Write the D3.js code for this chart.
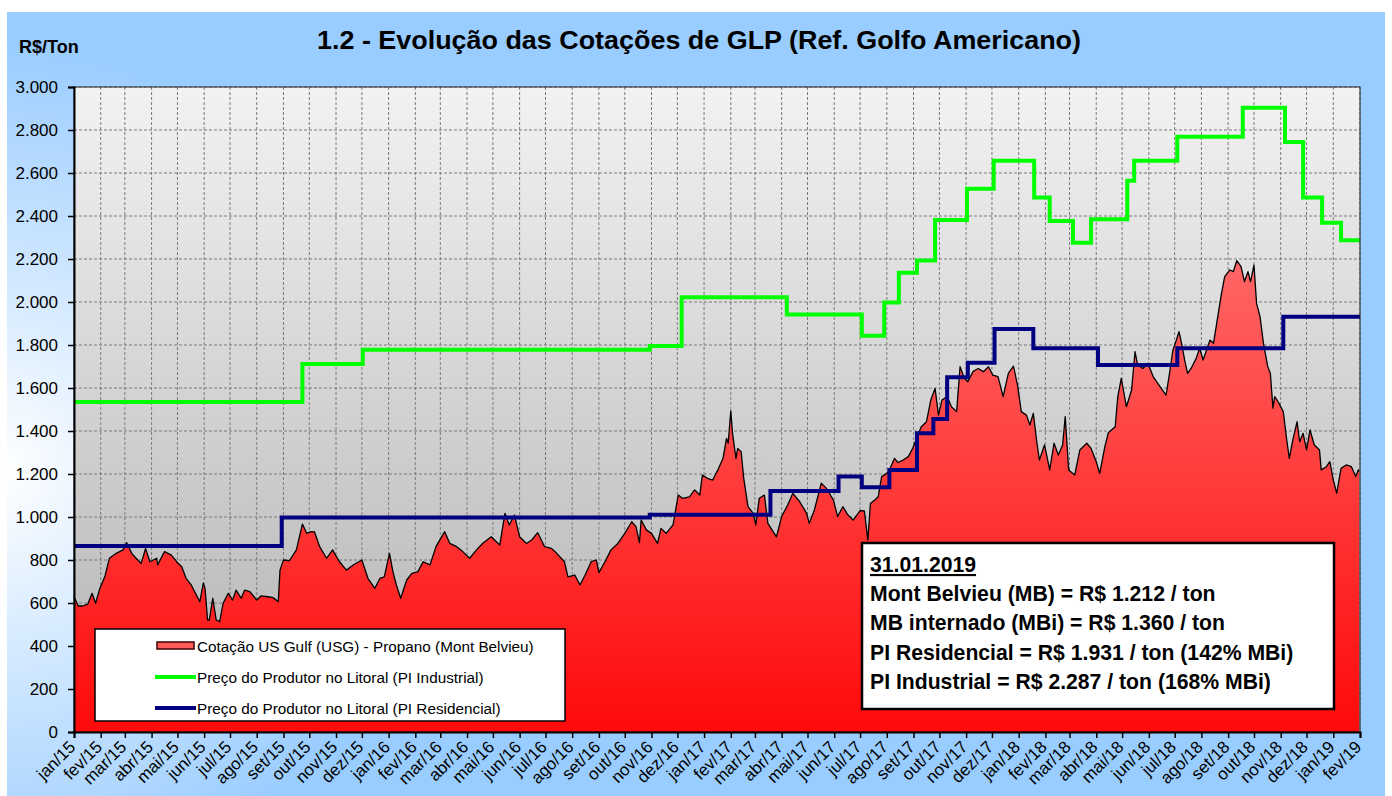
<!DOCTYPE html>
<html>
<head>
<meta charset="utf-8">
<script src="https://cdn.jsdelivr.net/npm/d3@7"></script>
<style>
  body { margin: 0; background: #fff; }
  svg { display: block; }
  text { font-family: "Liberation Sans", Arial, sans-serif; }
</style>
</head>
<body>
<svg id="chart" width="1392" height="796"></svg>
<script>
// month abbreviations used on the x axis
const monthAbbr = ["jan","fev","mar","abr","mai","jun","jul","ago","set","out","nov","dez"];
const yTicks = [0,200,400,600,800,1000,1200,1400,1600,1800,2000,2200,2400,2600,2800,3000];

// Cotação US Gulf (USG) - Propano (Mont Belvieu), R$/ton
const mbSeries = [
  ["2015-01-01",629],["2015-01-06",586],["2015-01-11",586],["2015-01-17",595],["2015-01-22",645],
  ["2015-01-26",599],["2015-01-31",668],["2015-02-06",726],["2015-02-11",808],["2015-02-19",831],
  ["2015-02-27",847],["2015-03-03",881],["2015-03-09",831],["2015-03-14",808],["2015-03-20",784],
  ["2015-03-25",854],["2015-03-30",792],["2015-04-07",808],["2015-04-08",777],["2015-04-16",839],
  ["2015-04-24",823],["2015-04-30",792],["2015-05-06",769],["2015-05-11",715],["2015-05-17",684],
  ["2015-05-23",637],["2015-05-27",606],["2015-05-31",692],["2015-06-02",668],["2015-06-05",521],
  ["2015-06-07",521],["2015-06-11",622],["2015-06-15",521],["2015-06-19",513],["2015-06-23",599],
  ["2015-06-29",645],["2015-07-04",614],["2015-07-08",660],["2015-07-14",622],["2015-07-18",660],
  ["2015-07-24",653],["2015-08-01",614],["2015-08-06",633],["2015-08-14",629],["2015-08-20",625],
  ["2015-08-26",606],["2015-08-28",753],["2015-09-01",800],["2015-09-08",797],["2015-09-16",847],
  ["2015-09-23",967],["2015-09-28",924],["2015-10-03",932],["2015-10-07",931],["2015-10-13",862],
  ["2015-10-21",808],["2015-10-28",847],["2015-11-05",792],["2015-11-13",753],["2015-11-21",777],
  ["2015-12-01",800],["2015-12-08",715],["2015-12-16",668],["2015-12-22",715],["2015-12-27",722],
  ["2016-01-02",831],["2016-01-06",746],["2016-01-10",684],["2016-01-15",622],["2016-01-22",707],
  ["2016-01-28",738],["2016-02-04",746],["2016-02-10",792],["2016-02-18",777],["2016-02-25",862],
  ["2016-03-06",932],["2016-03-12",877],["2016-03-20",862],["2016-03-27",839],["2016-04-04",808],
  ["2016-04-12",847],["2016-04-19",877],["2016-04-29",908],["2016-05-09",870],["2016-05-15",1017],
  ["2016-05-20",963],["2016-05-26",1009],["2016-06-01",908],["2016-06-09",877],["2016-06-15",893],
  ["2016-06-22",927],["2016-06-30",862],["2016-07-08",854],["2016-07-14",831],["2016-07-23",792],
  ["2016-07-27",722],["2016-08-04",730],["2016-08-10",684],["2016-08-16",730],["2016-08-23",792],
  ["2016-08-29",800],["2016-09-01",741],["2016-09-08",792],["2016-09-15",847],["2016-09-23",877],
  ["2016-10-01",924],["2016-10-09",978],["2016-10-14",955],["2016-10-18",881],["2016-10-20",986],
  ["2016-10-26",940],["2016-11-01",924],["2016-11-08",877],["2016-11-12",947],["2016-11-18",924],
  ["2016-11-26",963],["2016-12-02",1102],["2016-12-07",1087],["2016-12-15",1094],["2016-12-21",1126],
  ["2016-12-27",1102],["2016-12-30",1195],["2017-01-05",1180],["2017-01-11",1172],["2017-01-17",1219],
  ["2017-01-23",1273],["2017-01-27",1366],["2017-01-29",1343],["2017-02-01",1494],["2017-02-03",1389],
  ["2017-02-07",1273],["2017-02-09",1319],["2017-02-13",1304],["2017-02-16",1180],["2017-02-21",1048],
  ["2017-02-27",1017],["2017-03-02",963],["2017-03-06",1087],["2017-03-12",1102],["2017-03-16",970],
  ["2017-03-26",908],["2017-04-01",1002],["2017-04-08",1056],["2017-04-14",1110],["2017-04-22",1071],
  ["2017-04-30",1017],["2017-05-03",970],["2017-05-09",1033],["2017-05-17",1157],["2017-05-23",1133],
  ["2017-05-31",1079],["2017-06-05",1002],["2017-06-11",1048],["2017-06-17",1009],["2017-06-23",986],
  ["2017-07-01",1030],["2017-07-06",1028],["2017-07-10",893],["2017-07-13",1063],["2017-07-18",1079],
  ["2017-07-22",1094],["2017-07-26",1188],["2017-08-01",1203],["2017-08-04",1219],["2017-08-10",1273],
  ["2017-08-14",1253],["2017-08-20",1265],["2017-08-26",1281],["2017-08-31",1319],["2017-09-06",1381],
  ["2017-09-10",1420],["2017-09-16",1443],["2017-09-21",1544],["2017-09-26",1598],["2017-09-30",1474],
  ["2017-10-04",1544],["2017-10-10",1560],["2017-10-15",1513],["2017-10-21",1490],["2017-10-25",1699],
  ["2017-10-30",1645],["2017-11-03",1629],["2017-11-09",1676],["2017-11-15",1691],["2017-11-21",1676],
  ["2017-11-27",1699],["2017-12-02",1660],["2017-12-08",1653],["2017-12-14",1560],["2017-12-20",1668],
  ["2017-12-26",1702],["2017-12-31",1606],["2018-01-04",1490],["2018-01-10",1474],["2018-01-14",1428],
  ["2018-01-18",1482],["2018-01-22",1350],["2018-01-25",1265],["2018-01-31",1335],["2018-02-06",1219],
  ["2018-02-11",1343],["2018-02-16",1288],["2018-02-21",1335],["2018-02-24",1467],["2018-02-28",1219],
  ["2018-03-07",1195],["2018-03-13",1312],["2018-03-21",1343],["2018-03-26",1319],["2018-04-01",1257],
  ["2018-04-05",1203],["2018-04-11",1327],["2018-04-15",1392],["2018-04-23",1420],["2018-04-26",1560],
  ["2018-04-30",1645],["2018-05-06",1513],["2018-05-12",1591],["2018-05-16",1769],["2018-05-19",1707],
  ["2018-05-25",1691],["2018-05-31",1714],["2018-06-06",1653],["2018-06-14",1606],["2018-06-21",1567],
  ["2018-06-25",1668],["2018-06-29",1777],["2018-07-03",1823],["2018-07-06",1862],["2018-07-09",1808],
  ["2018-07-13",1722],["2018-07-16",1668],["2018-07-20",1691],["2018-07-26",1738],["2018-07-30",1785],
  ["2018-08-03",1730],["2018-08-07",1777],["2018-08-11",1823],["2018-08-15",1808],["2018-08-20",1932],
  ["2018-08-24",2033],["2018-08-28",2118],["2018-09-03",2149],["2018-09-07",2141],["2018-09-11",2192],
  ["2018-09-16",2164],["2018-09-20",2095],["2018-09-24",2141],["2018-09-27",2095],["2018-10-01",2172],
  ["2018-10-04",1994],["2018-10-08",1932],["2018-10-12",1808],["2018-10-17",1699],["2018-10-20",1668],
  ["2018-10-23",1506],["2018-10-25",1560],["2018-10-29",1536],["2018-11-04",1490],["2018-11-08",1358],
  ["2018-11-11",1273],["2018-11-15",1358],["2018-11-20",1443],["2018-11-23",1350],["2018-11-27",1389],
  ["2018-12-01",1312],["2018-12-05",1405],["2018-12-10",1335],["2018-12-16",1312],["2018-12-18",1219],
  ["2018-12-24",1234],["2018-12-28",1257],["2019-01-01",1172],["2019-01-05",1110],["2019-01-10",1226],
  ["2019-01-16",1242],["2019-01-22",1234],["2019-01-27",1188],["2019-01-30",1219],["2019-01-31",1212]
];

// Preço do Produtor no Litoral (PI Industrial) - price changes
const piIndustrial = [
  ["2015-01-01",1535],["2015-09-23",1712],["2015-12-02",1778],["2016-10-30",1795],["2016-12-06",2022],
  ["2017-04-07",1942],["2017-07-03",1843],["2017-07-29",1998],["2017-08-15",2136],["2017-09-05",2193],
  ["2017-09-26",2381],["2017-11-02",2527],["2017-12-03",2657],["2018-01-19",2486],["2018-02-06",2377],
  ["2018-03-05",2276],["2018-03-26",2385],["2018-05-07",2564],["2018-05-15",2657],["2018-07-04",2769],
  ["2018-09-18",2904],["2018-11-06",2744],["2018-11-27",2486],["2018-12-19",2369],["2019-01-10",2287],
  ["2019-02-01",2287]
];

// Preço do Produtor no Litoral (PI Residencial) - price changes
const piResidencial = [
  ["2015-01-01",865],["2015-08-30",998],["2016-10-30",1010],["2017-03-19",1121],["2017-06-06",1188],
  ["2017-07-03",1138],["2017-08-04",1219],["2017-09-05",1389],["2017-09-24",1456],["2017-10-10",1650],
  ["2017-11-03",1718],["2017-12-04",1875],["2018-01-18",1785],["2018-04-03",1707],["2018-07-04",1785],
  ["2018-11-04",1931],["2019-02-01",1931]
];

const legendItems = [
  {label: "Cotação US Gulf (USG) - Propano (Mont Belvieu)", kind: "area"},
  {label: "Preço do Produtor no Litoral (PI Industrial)", kind: "green"},
  {label: "Preço do Produtor no Litoral (PI Residencial)", kind: "blue"}
];

const noteLines = [
  "31.01.2019",
  "Mont Belvieu (MB) = R$ 1.212 / ton",
  "MB internado (MBi) = R$ 1.360 / ton",
  "PI Residencial = R$ 1.931 / ton (142% MBi)",
  "PI Industrial = R$ 2.287 / ton (168% MBi)"
];

const W = 1392, H = 796;
const mLeft = 74, mRight = 1360, mTop = 87, mBottom = 732;

const parse = d3.utcParse("%Y-%m-%d");
const toPts = arr => arr.map(d => ({date: parse(d[0]), value: d[1]}));
const mb = toPts(mbSeries), ind = toPts(piIndustrial), res = toPts(piResidencial);

const x = d3.scaleUtc()
  .domain([parse("2015-01-01"), parse("2019-02-01")])
  .range([mLeft, mRight]);
const y = d3.scaleLinear().domain([0, 3000]).range([mBottom, mTop]);

const svg = d3.select("#chart");
const defs = svg.append("defs");

// outer light blue background, fading to white towards left middle
const bg = defs.append("radialGradient").attr("id", "bgGrad")
  .attr("gradientUnits", "userSpaceOnUse")
  .attr("cx", 0).attr("cy", 470).attr("r", 430);
bg.append("stop").attr("offset", "0%").attr("stop-color", "#ffffff");
bg.append("stop").attr("offset", "100%").attr("stop-color", "#99ccff");

const plotGrad = defs.append("linearGradient").attr("id", "plotGrad")
  .attr("x1", 0).attr("y1", 0).attr("x2", 0).attr("y2", 1);
plotGrad.append("stop").attr("offset", "0%").attr("stop-color", "#f2f2f2");
plotGrad.append("stop").attr("offset", "100%").attr("stop-color", "#b2b2b2");

const redGrad = defs.append("linearGradient").attr("id", "redGrad")
  .attr("gradientUnits", "userSpaceOnUse")
  .attr("x1", 0).attr("y1", y(2200)).attr("x2", 0).attr("y2", y(0));
redGrad.append("stop").attr("offset", "0%").attr("stop-color", "#ff6666");
redGrad.append("stop").attr("offset", "100%").attr("stop-color", "#ff0a0a");

svg.append("rect").attr("x", 7).attr("y", 12).attr("width", W - 14).attr("height", H - 12)
  .attr("fill", "url(#bgGrad)");

// title
svg.append("text").attr("x", 699).attr("y", 49).attr("text-anchor", "middle")
  .attr("font-size", 26).attr("font-weight", "bold").attr("fill", "#000")
  .attr("textLength", 764).attr("lengthAdjust", "spacingAndGlyphs")
  .text("1.2 - Evolução das Cotações de GLP (Ref. Golfo Americano)");
svg.append("text").attr("x", 19).attr("y", 53)
  .attr("font-size", 18).attr("font-weight", "bold").text("R$/Ton");

// plot area
svg.append("rect").attr("x", mLeft).attr("y", mTop)
  .attr("width", mRight - mLeft).attr("height", mBottom - mTop)
  .attr("fill", "url(#plotGrad)");

const months = d3.utcMonth.range(parse("2015-01-01"), d3.utcDay.offset(parse("2019-02-01"), 1));

const grid = svg.append("g").attr("stroke", "#7a7a7a").attr("stroke-width", 1)
  .attr("stroke-dasharray", "3,2");
grid.selectAll(".vg").data(months.slice(1)).join("line")
  .attr("x1", d => x(d)).attr("x2", d => x(d)).attr("y1", mTop).attr("y2", mBottom);
grid.selectAll(".hg").data(yTicks.slice(1)).join("line")
  .attr("x1", mLeft).attr("x2", mRight).attr("y1", d => y(d)).attr("y2", d => y(d));

// red area
const area = d3.area().x(d => x(d.date)).y0(y(0)).y1(d => y(d.value));
const topLine = d3.line().x(d => x(d.date)).y(d => y(d.value));
svg.append("path").datum(mb).attr("d", area).attr("fill", "url(#redGrad)");
svg.append("path").datum(mb).attr("d", topLine).attr("fill", "none")
  .attr("stroke", "#000").attr("stroke-width", 1.3).attr("stroke-linejoin", "round");

// step lines
const step = d3.line().x(d => x(d.date)).y(d => y(d.value)).curve(d3.curveStepAfter);
svg.append("path").datum(ind).attr("d", step).attr("fill", "none")
  .attr("stroke", "#00ff00").attr("stroke-width", 4);
svg.append("path").datum(res).attr("d", step).attr("fill", "none")
  .attr("stroke", "#000080").attr("stroke-width", 4);

// plot border
svg.append("rect").attr("x", mLeft).attr("y", mTop)
  .attr("width", mRight - mLeft).attr("height", mBottom - mTop)
  .attr("fill", "none").attr("stroke", "#222").attr("stroke-width", 1);

// axes
const fmt = v => d3.format(",")(v).replace(/,/g, ".");
const yAxis = svg.append("g").attr("transform", `translate(${mLeft},0)`)
  .call(d3.axisLeft(y).tickValues(yTicks).tickSize(6).tickPadding(10).tickFormat(fmt));
yAxis.select(".domain").attr("stroke", "#000").attr("stroke-width", 2);
yAxis.selectAll(".tick line").attr("stroke", "#000").attr("stroke-width", 1.5);
yAxis.selectAll(".tick text").attr("font-size", 17).attr("fill", "#000")
  .attr("font-family", "Liberation Sans, Arial, sans-serif");

const xAxis = svg.append("g").attr("transform", `translate(0,${mBottom})`)
  .call(d3.axisBottom(x).tickValues(months).tickSize(6)
    .tickFormat(d => monthAbbr[d.getUTCMonth()] + "/" + String(d.getUTCFullYear()).slice(2)));
xAxis.select(".domain").attr("stroke", "#000").attr("stroke-width", 2);
xAxis.selectAll(".tick line").attr("stroke", "#000").attr("stroke-width", 1.5);
xAxis.selectAll(".tick text")
  .attr("font-size", 17).attr("fill", "#000")
  .attr("font-family", "Liberation Sans, Arial, sans-serif")
  .attr("text-anchor", "end").attr("dy", null).attr("y", null)
  .attr("transform", "translate(2,16) rotate(-45)");

// legend
const lg = svg.append("g");
lg.append("rect").attr("x", 95).attr("y", 629).attr("width", 470).attr("height", 92)
  .attr("fill", "#fff").attr("stroke", "#000").attr("stroke-width", 1.5);
legendItems.forEach((it, i) => {
  const cy = 646 + i * 31;
  if (it.kind === "area") {
    lg.append("rect").attr("x", 157).attr("y", cy - 4).attr("width", 37).attr("height", 7)
      .attr("fill", "#ff5c5c").attr("stroke", "#400000").attr("stroke-width", 1.5);
  } else {
    lg.append("line").attr("x1", 155).attr("x2", 196).attr("y1", cy).attr("y2", cy)
      .attr("stroke", it.kind === "green" ? "#00ff00" : "#000080").attr("stroke-width", 4);
  }
  lg.append("text").attr("x", 197).attr("y", cy + 5.5).attr("font-size", 15.3).attr("fill", "#000")
    .text(it.label);
});

// note box
const nb = svg.append("g");
nb.append("rect").attr("x", 862).attr("y", 543).attr("width", 472).attr("height", 166)
  .attr("fill", "#fff").attr("stroke", "#000").attr("stroke-width", 2.5);
noteLines.forEach((t, i) => {
  nb.append("text").attr("x", 870).attr("y", 572 + i * 29.2)
    .attr("font-size", 21.2).attr("font-weight", "bold").attr("fill", "#000")
    .attr("text-decoration", i === 0 ? "underline" : null)
    .text(t);
});
</script>
</body>
</html>
